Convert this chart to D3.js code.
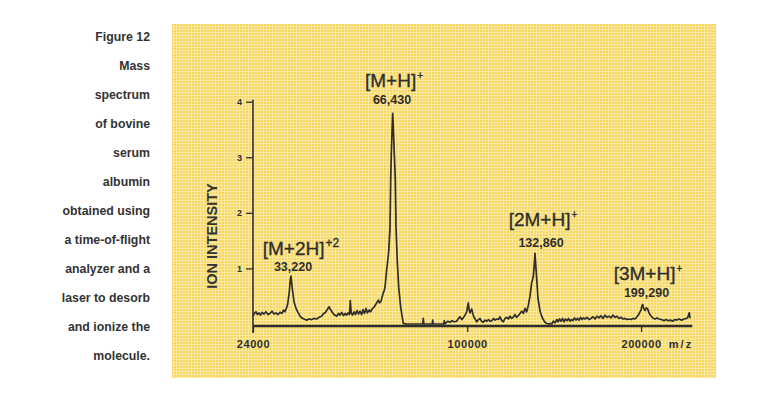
<!DOCTYPE html>
<html><head><meta charset="utf-8">
<script src="https://cdn.jsdelivr.net/npm/d3@7"></script>
<style>html,body{margin:0;padding:0;background:#fff;}svg{display:block;font-family:"Liberation Sans",Arial,Helvetica,sans-serif;}</style>
</head><body><div id="chart"></div>
<script>
// ---- data ----
const captionLines = ["Figure 12","Mass","spectrum","of bovine","serum","albumin","obtained using","a time-of-flight","analyzer and a","laser to desorb","and ionize the","molecule."];
const yTicks = [1,2,3,4];
const xTicks = [24000,100000,200000];
const xTickLabels = ["24000","100000","200000"];
const peakLabels = ["[M+2H]","[M+H]","[2M+H]","[3M+H]"];
const peakCharges = ["+2","+","+","+"];
const peakMasses = ["33,220","66,430","132,860","199,290"];
const mz = [24000,24352,24706,25062,25421,25783,26147,26634,27129,27629,28131,28639,29152,29667,30189,30716,31244,31645,32048,32454,32779,33219,33493,33687,33908,34159,34522,34999,35367,35736,36222,36711,37377,38169,38848,39653,40345,41168,41873,42708,43272,43744,44378,45012,45492,46075,46626,47507,48101,48598,49164,49766,50270,50846,51289,51802,52075,52386,52836,53356,53880,54406,54934,55465,56069,56535,57073,57614,58158,58704,59253,59805,60654,61286,62146,62600,63166,63660,64039,64384,64689,65342,65767,66115,66621,66890,67128,67439,67673,67907,68184,68696,68974,69490,70045,70843,71487,71888,72986,79982,80197,80412,84036,84257,84477,89180,89401,89628,90174,91077,91985,92903,93826,95074,95914,96615,97456,98163,98967,99774,100153,100540,100971,101353,102170,102797,103279,104006,104588,105222,106204,106940,107827,108676,109515,110417,111169,112024,112930,113690,114718,115484,116247,117019,117944,118832,119709,120652,121438,122332,123285,124073,124877,125833,126750,127656,128630,129442,130364,131232,132161,133094,133978,134476,134917,135358,135859,136582,137693,138533,139547,140505,141466,142499,143345,144316,145230,146207,147187,147948,148818,149692,150567,151446,152326,153210,154095,154968,155867,156761,157657,158555,159456,160352,161258,162167,163079,163993,165218,166448,167674,168913,170156,171396,172649,173897,175159,176425,177696,178963,180243,181527,182808,184101,185390,186693,187996,189303,190620,191940,193257,194587,195921,196923,198123,198934,199943,200614,201089,201763,202644,203518,204476,205363,206052,206943,207626,208657,209480,210865,212254,214119,215751,217147,218743,220299,221719,223492,224942,226367,228293,229968,231900,232864,233792,234304];
const intensity = [0.14,0.19,0.22,0.17,0.2,0.16,0.21,0.18,0.22,0.17,0.19,0.23,0.18,0.2,0.17,0.21,0.19,0.25,0.22,0.29,0.36,0.58,0.8,0.86,0.72,0.58,0.4,0.3,0.24,0.2,0.14,0.11,0.09,0.07,0.09,0.08,0.1,0.09,0.12,0.14,0.19,0.2,0.25,0.31,0.26,0.21,0.17,0.14,0.19,0.16,0.21,0.15,0.19,0.16,0.2,0.17,0.42,0.2,0.16,0.22,0.17,0.24,0.18,0.23,0.17,0.26,0.19,0.28,0.2,0.25,0.22,0.27,0.31,0.36,0.43,0.38,0.41,0.5,0.56,0.6,0.66,0.98,1.15,1.3,1.73,2.6,3.05,3.5,3.79,3.55,3.2,2.6,1.75,1.12,0.66,0.3,0.12,0.01,0,0,0.1,0,0,0.07,0,0,0.06,0,0.02,0.05,0.03,0.06,0.04,0.05,0.1,0.13,0.08,0.11,0.16,0.22,0.3,0.38,0.25,0.2,0.27,0.17,0.12,0.08,0.04,0.07,0.1,0.05,0.03,0.07,0.05,0.08,0.05,0.06,0.1,0.07,0.09,0.08,0.13,0.07,0.04,0.1,0.12,0.09,0.14,0.1,0.13,0.17,0.12,0.15,0.19,0.23,0.19,0.28,0.22,0.33,0.5,0.74,0.85,1.05,1.27,1.05,0.82,0.46,0.24,0.15,0.08,0.03,0.01,0,0.01,0,0.05,0.02,0.08,0.04,0.09,0.05,0.1,0.04,0.09,0.06,0.1,0.05,0.08,0.06,0.11,0.07,0.1,0.07,0.12,0.08,0.11,0.09,0.12,0.08,0.1,0.13,0.09,0.14,0.11,0.15,0.1,0.16,0.12,0.14,0.11,0.16,0.12,0.14,0.1,0.12,0.09,0.1,0.08,0.09,0.08,0.1,0.09,0.12,0.16,0.2,0.25,0.33,0.35,0.28,0.24,0.29,0.27,0.2,0.17,0.14,0.12,0.1,0.09,0.11,0.09,0.08,0.06,0.08,0.06,0.07,0.05,0.08,0.07,0.09,0.07,0.09,0.1,0.13,0.2,0.1];

// ---- drawing ----
const W = 771, H = 400;
const svg = d3.select("#chart").append("svg").attr("width", W).attr("height", H);
const ink = "#2e2e2e";

// halftone yellow panel
const defs = svg.append("defs");
const pat = defs.append("pattern").attr("id","ht").attr("width",3).attr("height",3).attr("patternUnits","userSpaceOnUse");
pat.append("rect").attr("width",3).attr("height",3).attr("fill","#fbe9a2");
pat.append("rect").attr("width",2).attr("height",2).attr("fill","#f6d660");
svg.append("rect").attr("x",172).attr("y",24).attr("width",544).attr("height",354).attr("fill","url(#ht)");

// caption
svg.append("g").selectAll("text").data(captionLines).join("text")
  .attr("x",150).attr("y",(d,i)=>40.5 + i*29)
  .attr("text-anchor","end").attr("font-size",12.3).attr("font-weight","bold").attr("fill","#333")
  .text(d=>d);

// scales
const x = d3.scaleSqrt().domain([24000,236000]).range([253,692.3]);
const y = d3.scaleLinear().domain([0,4]).range([324,101.7]);

// y axis
const yAxis = d3.axisLeft(y).tickValues(yTicks).tickSize(7).tickPadding(4).tickFormat(d3.format("d"));
const gy = svg.append("g").attr("transform","translate(253,0)").call(yAxis);
gy.select(".domain").remove();
gy.selectAll(".tick line").attr("stroke",ink).attr("stroke-width",1.3);
gy.selectAll(".tick text").attr("fill",ink).attr("font-size",9).attr("font-weight","bold").attr("font-family","Liberation Sans, Arial, sans-serif");
svg.append("line").attr("x1",253).attr("x2",253).attr("y1",y(4)-2).attr("y2",333).attr("stroke",ink).attr("stroke-width",1.6);

// x axis
const xAxis = d3.axisBottom(x).tickValues(xTicks).tickSize(6).tickPadding(8).tickFormat((d,i)=>xTickLabels[i]);
const gx = svg.append("g").attr("transform","translate(0,326)").call(xAxis);
gx.select(".domain").remove();
gx.selectAll(".tick line").attr("stroke",ink).attr("stroke-width",1.3);
gx.selectAll(".tick text").attr("fill",ink).attr("font-size",11).attr("font-weight","bold").attr("letter-spacing","0.6px").attr("font-family","Liberation Sans, Arial, sans-serif");
svg.append("line").attr("x1",253).attr("x2",692.3).attr("y1",326).attr("y2",326).attr("stroke",ink).attr("stroke-width",2.4);
svg.append("text").attr("x",681).attr("y",348).attr("text-anchor","middle").attr("font-size",11).attr("font-weight","bold").attr("letter-spacing","2px").attr("fill",ink).text("m/z");

// y label
svg.append("text").attr("transform","translate(217,236) rotate(-90)").attr("text-anchor","middle")
  .attr("font-size",14.5).attr("font-weight","bold").attr("fill","#333").text("ION INTENSITY");

// spectrum
const pts = mz.map((m,i)=>[m,intensity[i]]);
svg.append("path").datum(pts)
  .attr("d", d3.line().x(d=>x(d[0])).y(d=>y(d[1])))
  .attr("fill","none").attr("stroke",ink).attr("stroke-width",1.7).attr("stroke-linejoin","round");

// peak labels
const labelPos = [
  {lx:301, ly:255, mx:293, my:270.5},
  {lx:394, ly:86.5, mx:392, my:103.5},
  {lx:543, ly:226, mx:541, my:246.5},
  {lx:648, ly:280, mx:646.5, my:296.5}
];
peakLabels.forEach((lab,i)=>{
  const p = labelPos[i];
  const t = svg.append("text").attr("x",p.lx).attr("y",p.ly).attr("text-anchor","middle")
    .attr("font-size",19).attr("fill",ink).attr("stroke",ink).attr("stroke-width",0.35);
  t.append("tspan").text(lab);
  t.append("tspan").attr("dy",-8).attr("font-size",i===0?12:10).attr("dx",1).text(peakCharges[i]);
  svg.append("text").attr("x",p.mx).attr("y",p.my).attr("text-anchor","middle")
    .attr("font-size",12.5).attr("font-weight","bold").attr("fill",ink).text(peakMasses[i]);
});
</script></body></html>
